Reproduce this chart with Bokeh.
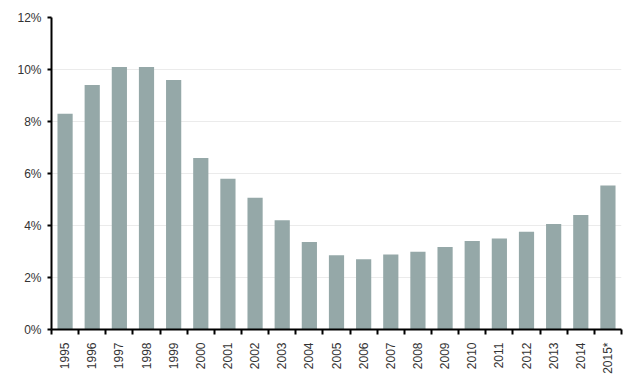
import math
from bokeh.plotting import figure
from bokeh.models import FixedTicker, ColumnDataSource
from bokeh.embed import file_html
from bokeh.resources import INLINE

years = ["1995", "1996", "1997", "1998", "1999", "2000", "2001", "2002", "2003", "2004",
         "2005", "2006", "2007", "2008", "2009", "2010", "2011", "2012", "2013", "2014", "2015*"]
values = [8.3, 9.4, 10.1, 10.1, 9.6, 6.6, 5.8, 5.07, 4.2, 3.37,
          2.86, 2.7, 2.88, 2.99, 3.17, 3.4, 3.5, 3.76, 4.06, 4.4, 5.54]
y_ticks = [0, 2, 4, 6, 8, 10, 12]

n = len(years)
centers = [i + 0.5 for i in range(n)]
bounds = [i for i in range(n + 1)]

src = ColumnDataSource(dict(x=centers, top=values))

p = figure(frame_width=570, frame_height=312, x_range=(0, n), y_range=(0, 12),
           output_backend="svg", toolbar_location=None,
           min_border_left=51, min_border_top=17, min_border_right=11, min_border_bottom=45)
p.outline_line_color = None
p.background_fill_color = "white"
p.border_fill_color = "white"

p.vbar(x="x", top="top", width=0.56, source=src, fill_color="#95a8a8", line_color=None)

# x axis
p.xaxis.ticker = FixedTicker(ticks=centers, minor_ticks=bounds)
p.xaxis.major_label_overrides = {c: y for c, y in zip(centers, years)}
p.xaxis.major_tick_out = 0
p.xaxis.major_tick_in = 0
p.xaxis.minor_tick_out = 5
p.xaxis.minor_tick_in = 0
p.xaxis.minor_tick_line_color = "black"
p.xaxis.minor_tick_line_width = 2
p.xaxis.axis_line_color = "black"
p.xaxis.axis_line_width = 2
p.xaxis.major_label_orientation = math.pi / 2
p.xaxis.major_label_standoff = 8
p.xaxis.major_label_text_font = "Liberation Sans"
p.xaxis.major_label_text_font_size = "12px"
p.xaxis.major_label_text_color = "#333333"

# y axis
p.yaxis.ticker = FixedTicker(ticks=y_ticks)
p.yaxis.major_label_overrides = {t: f"{t}%" for t in y_ticks}
p.yaxis.major_tick_out = 4
p.yaxis.major_tick_in = 0
p.yaxis.minor_tick_line_color = None
p.yaxis.axis_line_color = "black"
p.yaxis.axis_line_width = 2
p.yaxis.major_tick_line_width = 2
p.yaxis.major_label_standoff = 6
p.yaxis.major_label_text_font = "Liberation Sans"
p.yaxis.major_label_text_font_size = "12px"
p.yaxis.major_label_text_color = "#333333"

p.xgrid.grid_line_color = None
p.ygrid.grid_line_color = "#ebebeb"
p.ygrid.grid_line_width = 1

open("out.html", "w").write(file_html(p, INLINE))
